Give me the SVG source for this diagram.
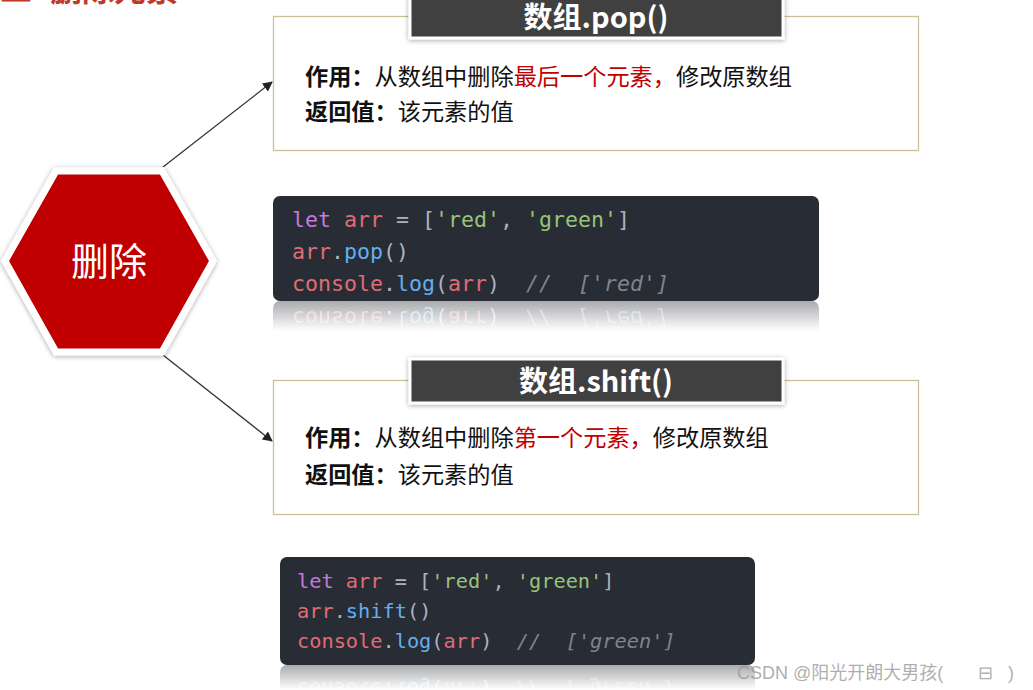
<svg xmlns="http://www.w3.org/2000/svg" xmlns:xlink="http://www.w3.org/1999/xlink" width="1033" height="690" viewBox="0 0 1033 690">
<defs>
<style>
text{white-space:pre;}
.cjk{font-family:"Noto Sans CJK SC","Noto Sans",sans-serif;}
.body{font-size:23.2px;fill:#111;}
.b{font-weight:bold;}
.red{fill:#c00000;}
.box{fill:#fff;stroke:#c9bf98;stroke-width:1.3;}
.bar{fill:#404040;stroke:#fff;stroke-width:3;}
.ttl{font-family:"Noto Sans CJK SC","Noto Sans",sans-serif;font-weight:bold;font-size:29px;fill:#fff;text-anchor:middle;}
.code{font-family:"DejaVu Sans Mono","Liberation Mono",monospace;}
.kw{fill:#c678dd;}.vr{fill:#e06c75;}.pn{fill:#abb2bf;}.st{fill:#98c379;}.fn{fill:#61afef;}.cm{fill:#7f848e;font-style:italic;}
.conn{stroke:#333;stroke-width:1.3;fill:none;marker-end:url(#ah);}
</style>
<marker id="ah" markerWidth="10" markerHeight="10" refX="9" refY="5" orient="auto" markerUnits="userSpaceOnUse" viewBox="0 0 10 10">
<path d="M0,0 L10,5 L0,10 z" fill="#222"/>
</marker>
<filter id="sh" x="-20%" y="-20%" width="140%" height="140%">
<feDropShadow dx="0" dy="1" stdDeviation="2.5" flood-color="#000" flood-opacity="0.35"/>
</filter>
<linearGradient id="fade" x1="0" y1="0" x2="0" y2="1">
<stop offset="0" stop-color="#fff" stop-opacity="0.4"/>
<stop offset="1" stop-color="#fff" stop-opacity="0"/>
</linearGradient>
<mask id="m1" maskUnits="userSpaceOnUse" x="0" y="0" width="1033" height="690"><rect x="270" y="301" width="560" height="30" fill="url(#fade)"/></mask>
<mask id="m2" maskUnits="userSpaceOnUse" x="0" y="0" width="1033" height="690"><rect x="275" y="665" width="490" height="25" fill="url(#fade)"/></mask>
</defs>
<rect width="1033" height="690" fill="#fff"/>

<g id="heading">
<text x="0" y="1" class="cjk b" font-size="32" fill="#c0392b">二</text>
<text x="50" y="1" class="cjk b" font-size="32" fill="#c0392b">删除元素</text>
</g>

<g id="connectors">
<line class="conn" x1="163" y1="167" x2="272" y2="82"/>
<line class="conn" x1="163" y1="355" x2="272" y2="441"/>
</g>

<g id="hexagon">
<polygon points="5,261 56,171 162,171 213,261 162,352 56,352" fill="#c00000" stroke="#fff" stroke-width="7" stroke-linejoin="miter" filter="url(#sh)"/>
<text x="109" y="275" class="cjk" font-size="38" fill="#fff" text-anchor="middle">删除</text>
</g>

<g id="pop-box">
<rect class="box" x="273.5" y="16.5" width="645" height="134"/>
<rect class="bar" x="410" y="-6" width="373" height="44" filter="url(#sh)"/>
<text class="ttl" x="596" y="28">数组.pop()</text>
<text class="cjk body" x="305" y="85"><tspan class="b">作用：</tspan>从数组中删除<tspan class="red">最后一个元素，</tspan>修改原数组</text>
<text class="cjk body" x="305" y="120"><tspan class="b">返回值：</tspan>该元素的值</text>
</g>

<g id="pop-code">
<g id="pc1">
<rect x="273" y="196" width="546" height="105" rx="7" fill="#282c34"/>
<g class="code" font-size="21.6">
<text x="292" y="227"><tspan class="kw">let</tspan><tspan class="vr"> arr</tspan><tspan class="pn"> = [</tspan><tspan class="st">'red'</tspan><tspan class="pn">, </tspan><tspan class="st">'green'</tspan><tspan class="pn">]</tspan></text>
<text x="292" y="259"><tspan class="vr">arr</tspan><tspan class="pn">.</tspan><tspan class="fn">pop</tspan><tspan class="pn">()</tspan></text>
<text x="292" y="291"><tspan class="vr">console</tspan><tspan class="pn">.</tspan><tspan class="fn">log</tspan><tspan class="pn">(</tspan><tspan class="vr">arr</tspan><tspan class="pn">)  </tspan><tspan class="cm">//  ['red']</tspan></text>
</g>
</g>
<g mask="url(#m1)"><use xlink:href="#pc1" transform="translate(0,602) scale(1,-1)"/></g>
</g>

<g id="shift-box">
<rect class="box" x="273.5" y="380.5" width="645" height="134"/>
<rect class="bar" x="410" y="359" width="373" height="44" filter="url(#sh)"/>
<text class="ttl" x="596" y="392">数组.shift()</text>
<text class="cjk body" x="305" y="446"><tspan class="b">作用：</tspan>从数组中删除<tspan class="red">第一个元素，</tspan>修改原数组</text>
<text class="cjk body" x="305" y="483"><tspan class="b">返回值：</tspan>该元素的值</text>
</g>

<g id="shift-code">
<g id="pc2">
<rect x="280" y="557" width="475" height="108" rx="7" fill="#282c34"/>
<g class="code" font-size="20.3">
<text x="297" y="588"><tspan class="kw">let</tspan><tspan class="vr"> arr</tspan><tspan class="pn"> = [</tspan><tspan class="st">'red'</tspan><tspan class="pn">, </tspan><tspan class="st">'green'</tspan><tspan class="pn">]</tspan></text>
<text x="297" y="618"><tspan class="vr">arr</tspan><tspan class="pn">.</tspan><tspan class="fn">shift</tspan><tspan class="pn">()</tspan></text>
<text x="297" y="648"><tspan class="vr">console</tspan><tspan class="pn">.</tspan><tspan class="fn">log</tspan><tspan class="pn">(</tspan><tspan class="vr">arr</tspan><tspan class="pn">)  </tspan><tspan class="cm">//  ['green']</tspan></text>
</g>
</g>
<g mask="url(#m2)"><use xlink:href="#pc2" transform="translate(0,1330) scale(1,-1)"/></g>
</g>

<g id="watermark">
<text x="737" y="679" font-family="Liberation Sans,'Noto Sans CJK SC',sans-serif" font-size="18" fill="#999" fill-opacity="0.8">CSDN @阳光开朗大男孩(<tspan x="978">⊟</tspan><tspan x="1008">)</tspan></text>
</g>
</svg>
